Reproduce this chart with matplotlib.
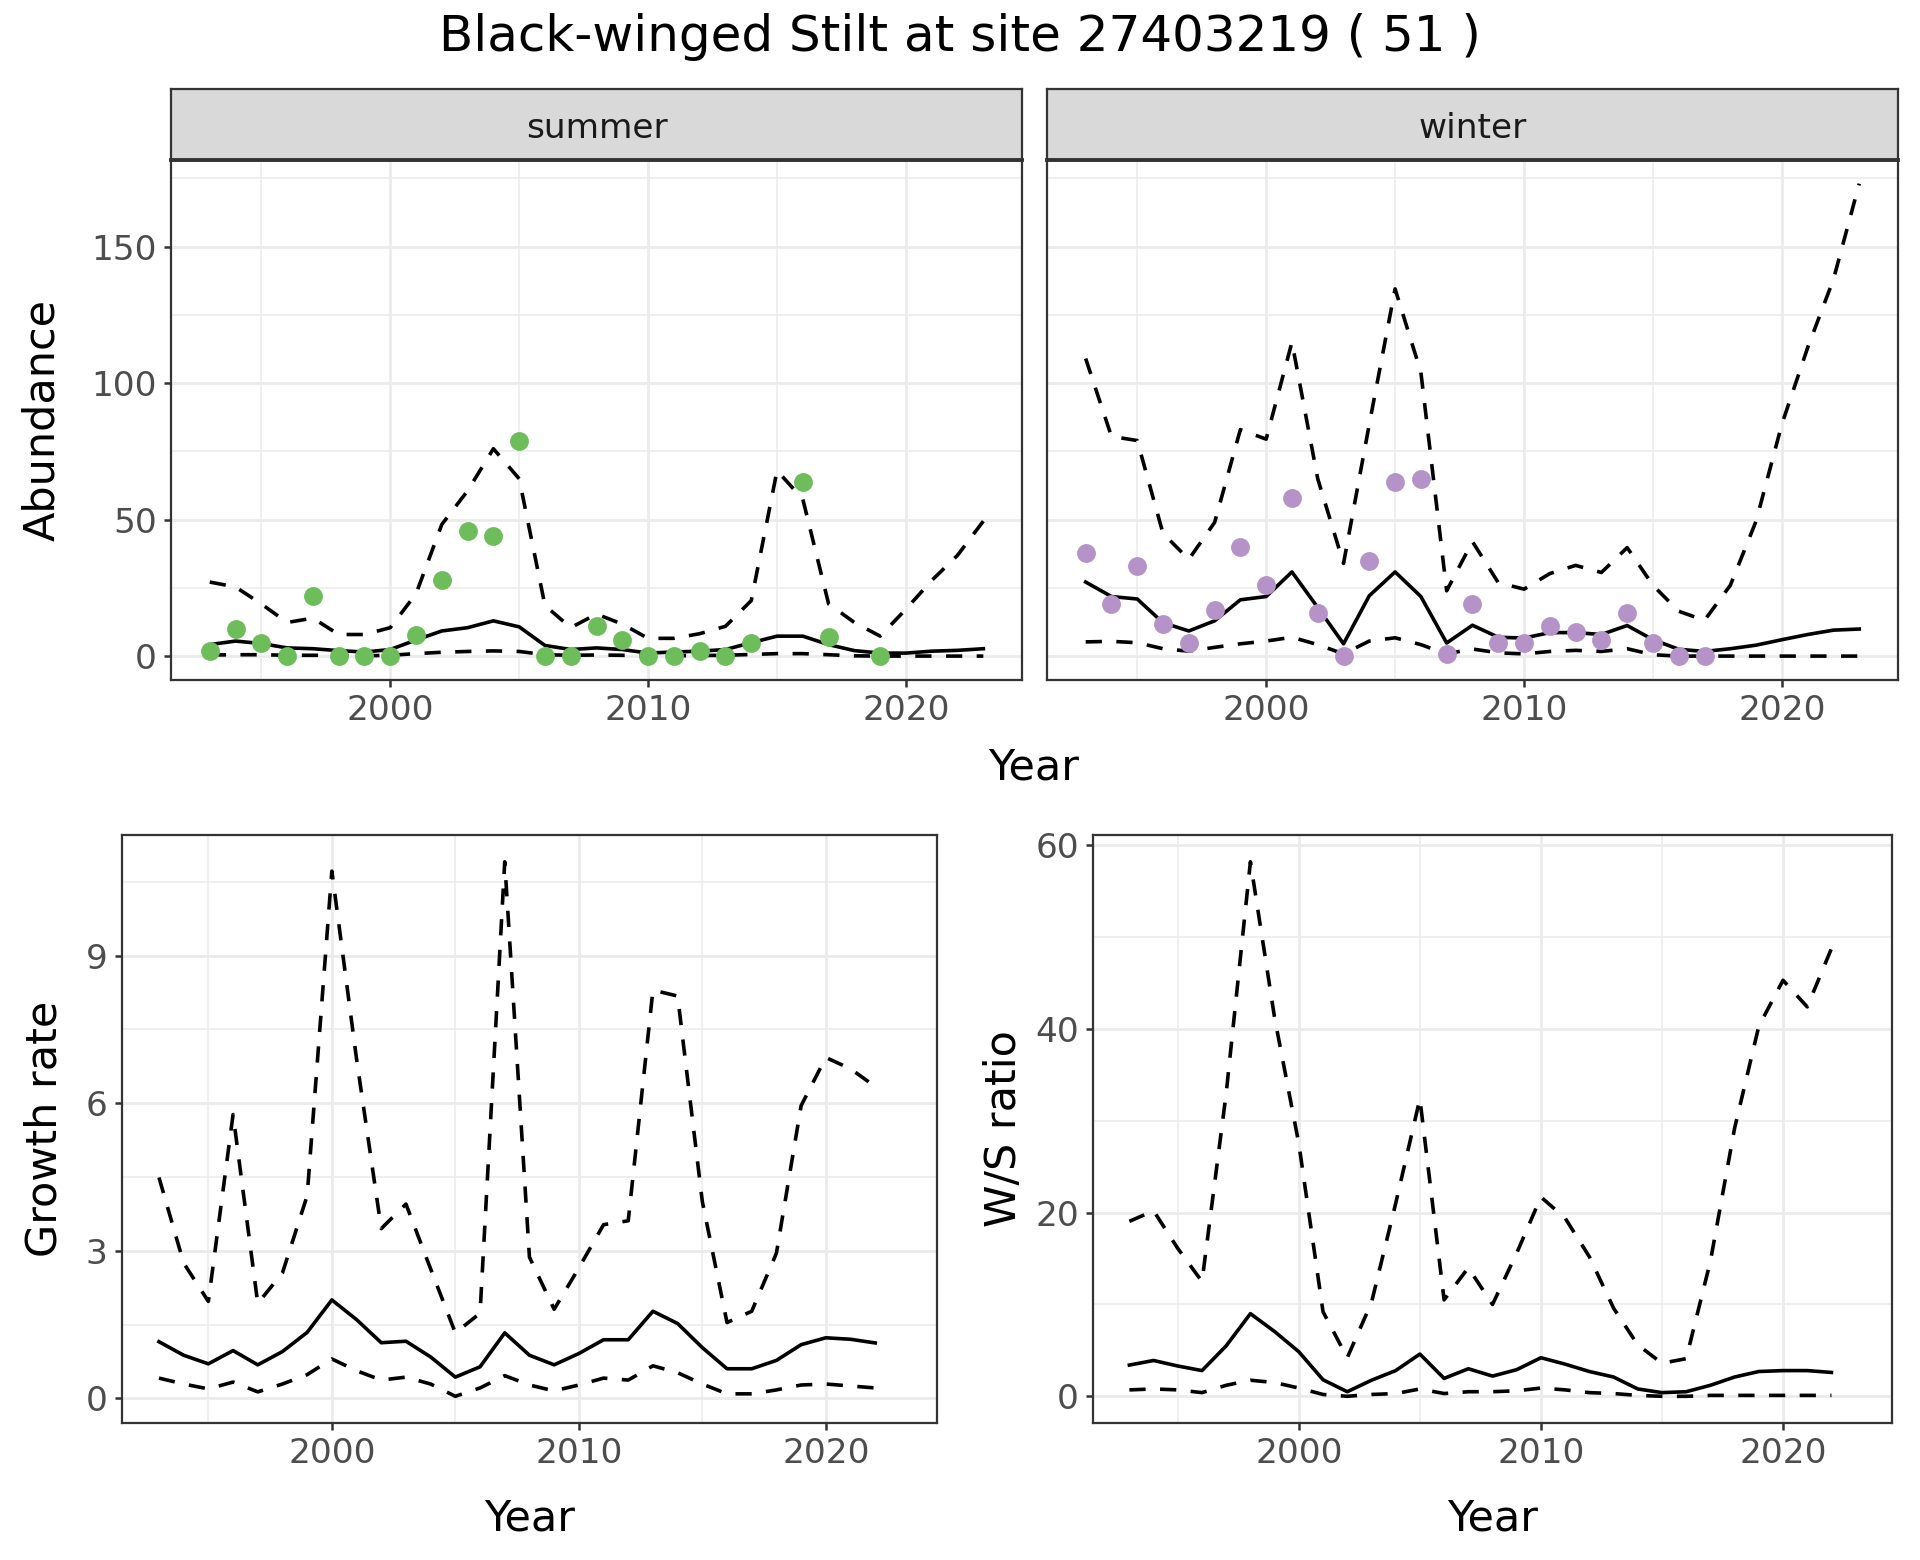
import numpy as np
import matplotlib.pyplot as plt
from matplotlib.ticker import MultipleLocator

plt.rcParams['font.family'] = ['DejaVu Sans']

# Years
years_ab = np.array([1993, 1994, 1995, 1996, 1997, 1998, 1999, 2000, 2001, 2002,
                     2003, 2004, 2005, 2006, 2007, 2008, 2009, 2010, 2011, 2012,
                     2013, 2014, 2015, 2016, 2017, 2018, 2019, 2020, 2021, 2022, 2023])
years_gr = years_ab[:-1]

nan = np.nan

# Summer abundance
summer_obs = [2, 10, 5, 0, 22, 0, 0, 0, 8, 28, 46, 44, 79, 0, 0, 11, 6, 0, 0, 2,
              0, 5, nan, 64, 7, nan, 0, nan, nan, nan, nan]
summer_mean = [4.3, 5.6, 4.7, 3.1, 2.8, 2.1, 1.6, 2.5, 6.0, 9.3, 10.5, 13.0, 10.8, 4.0,
               2.5, 3.1, 2.5, 1.2, 1.6, 1.9, 2.5, 5.0, 7.4, 7.4, 4.3, 2.1, 1.2, 1.2,
               1.9, 2.2, 2.8]
summer_upper = [27.2, 25.4, 19.2, 12.4, 14.0, 8.0, 8.0, 10.5, 22.9, 48.3, 60.6, 76.0,
                65.0, 18.6, 10.5, 15.5, 11.8, 6.6, 6.6, 8.3, 11.0, 20.4, 68.0, 57.5,
                19.2, 12.4, 7.4, 17.3, 27.8, 37.0, 49.5]
summer_lower = [0.5, 0.6, 0.6, 0.4, 0.4, 0.3, 0.2, 0.4, 1.0, 1.5, 1.8, 2.0, 1.8, 0.6,
                0.4, 0.5, 0.4, 0.2, 0.2, 0.3, 0.4, 0.7, 1.0, 1.0, 0.6, 0.2, 0.1, 0.1,
                0.1, 0.1, 0.1]

# Winter abundance
winter_obs = [38, 19, 33, 12, 5, 17, 40, 26, 58, 16, 0, 35, 64, 65, 1, 19, 5, 5, 11,
              9, 6, 16, 5, 0, 0, nan, nan, nan, nan, nan, nan]
winter_mean = [27.2, 21.9, 21.0, 12.3, 9.3, 13.0, 20.7, 21.9, 30.9, 17.9, 4.6, 22.2,
               30.9, 21.9, 4.9, 11.4, 7.0, 6.7, 8.7, 8.7, 8.0, 11.3, 6.1, 2.6, 1.8,
               2.8, 4.1, 6.1, 8.0, 9.6, 10.0]
winter_upper = [109, 80.5, 79, 45, 35.5, 49, 83, 79.5, 115, 65, 34, 85, 134.5, 104, 24,
                42, 27, 24.6, 30.3, 33.3, 30.7, 39.8, 26, 16.5, 13.2, 26, 49.5, 85,
                113, 138, 173]
winter_lower = [5.3, 5.5, 5.0, 2.8, 1.9, 3.3, 4.6, 5.6, 7.0, 4.3, 0.9, 5.6, 6.8, 4.3,
                0.9, 2.7, 1.3, 0.9, 1.8, 2.2, 1.8, 2.8, 0.6, 0.1, 0.1, 0.1, 0.1, 0.1,
                0.1, 0.1, 0.1]

# Growth rate
growth_mean = [1.15, 0.875, 0.70, 0.97, 0.68, 0.95, 1.34, 2.0, 1.6, 1.13, 1.16, 0.84,
               0.43, 0.64, 1.33, 0.875, 0.68, 0.91, 1.19, 1.19, 1.77, 1.52, 1.03,
               0.60, 0.60, 0.77, 1.09, 1.23, 1.2, 1.125]
growth_upper = [4.49, 2.75, 1.97, 5.77, 1.93, 2.55, 4.12, 10.72, 6.9, 3.45, 3.95, 2.63,
                1.33, 1.73, 10.91, 2.87, 1.81, 2.65, 3.53, 3.61, 8.3, 8.18, 4.0, 1.54,
                1.77, 2.95, 5.95, 6.93, 6.7, 6.34]
growth_lower = [0.41, 0.29, 0.19, 0.33, 0.13, 0.29, 0.48, 0.80, 0.56, 0.37, 0.43, 0.29,
                0.04, 0.21, 0.46, 0.27, 0.15, 0.27, 0.41, 0.37, 0.66, 0.52, 0.29, 0.09,
                0.09, 0.17, 0.27, 0.29, 0.25, 0.21]

# Winter / summer ratio
ratio_mean = [3.4, 3.9, 3.3, 2.8, 5.5, 9.0, 7.05, 4.85, 1.8, 0.5, 1.75, 2.8, 4.6, 1.95,
              3.0, 2.2, 2.9, 4.2, 3.5, 2.7, 2.1, 0.8, 0.4, 0.5, 1.2, 2.1, 2.7, 2.8,
              2.8, 2.6]
ratio_upper = [19.05, 20.2, 16.1, 12.5, 33, 58.2, 41.2, 27.5, 9.2, 4.2, 10.2, 21, 32.4,
               10.5, 14, 10, 15.6, 21.7, 19.4, 15.2, 9.6, 5.6, 3.6, 4.1, 14.7, 29.2,
               40.3, 45.3, 42.4, 48.75]
ratio_lower = [0.7, 0.8, 0.7, 0.4, 1.2, 1.75, 1.5, 0.9, 0.2, 0.0, 0.2, 0.3, 0.8, 0.3,
               0.5, 0.5, 0.6, 0.9, 0.7, 0.4, 0.3, 0.1, 0.0, 0.0, 0.1, 0.1, 0.1, 0.1,
               0.1, 0.1]

title = "Black-winged Stilt at site 27403219 ( 51 )"

GRID = "#EBEBEB"
BORDER = "#333333"
TICKTXT = "#4D4D4D"
DASH = (0, (4.5, 4))
LW = 1.3

# all panels share the full year span (ggplot expands 5 %)
span = years_ab.max() - years_ab.min()
XLIM = (years_ab.min() - 0.05 * span, years_ab.max() + 0.05 * span)


def style_axes(ax, ymajor, yminor):
    ax.set_facecolor("white")
    ax.xaxis.set_major_locator(MultipleLocator(10))
    ax.xaxis.set_minor_locator(MultipleLocator(5))
    ax.yaxis.set_major_locator(MultipleLocator(ymajor))
    ax.yaxis.set_minor_locator(MultipleLocator(yminor))
    ax.grid(True, which="major", color=GRID, lw=1.0)
    ax.grid(True, which="minor", color=GRID, lw=0.55)
    ax.set_axisbelow(True)
    for s in ax.spines.values():
        s.set_color(BORDER)
        s.set_linewidth(0.8)
    ax.tick_params(which="major", length=2.6, width=0.9, color=BORDER,
                   labelsize=12.4, labelcolor=TICKTXT, pad=2.5)
    ax.tick_params(which="minor", length=0)
    ax.margins(x=0.05, y=0.05)
    ax.set_xlim(*XLIM)


def draw_band(ax, x, mean, lower, upper):
    ax.plot(x, upper, color="black", lw=LW, ls=DASH)
    ax.plot(x, lower, color="black", lw=LW, ls=DASH)
    ax.plot(x, mean, color="black", lw=LW)


fig = plt.figure(figsize=(9.6, 7.8), dpi=200)

ax_s = fig.add_axes([0.0891, 0.5641, 0.4432, 0.3333])
ax_w = fig.add_axes([0.5453, 0.5641, 0.4432, 0.3333], sharey=ax_s, sharex=ax_s)
ax_g = fig.add_axes([0.0635, 0.0878, 0.4245, 0.3769])
ax_r = fig.add_axes([0.5693, 0.0878, 0.4161, 0.3769])

# Abundance panels
draw_band(ax_s, years_ab, summer_mean, summer_lower, summer_upper)
ax_s.scatter(years_ab, summer_obs, s=46, color="#6DBD5B", lw=0, zorder=3)
draw_band(ax_w, years_ab, winter_mean, winter_lower, winter_upper)
ax_w.scatter(years_ab, winter_obs, s=46, color="#B592C8", lw=0, zorder=3)

style_axes(ax_s, 50, 25)
style_axes(ax_w, 50, 25)
ax_w.tick_params(axis="y", which="both", left=False, labelleft=False)
ax_s.set_ylabel("Abundance", fontsize=15.5, labelpad=10)

# Facet strips
for ax, lab in [(ax_s, "summer"), (ax_w, "winter")]:
    pos = ax.get_position()
    strip = fig.add_axes([pos.x0, pos.y1, pos.width, 0.0455])
    strip.set_facecolor("#D9D9D9")
    strip.set_xticks([])
    strip.set_yticks([])
    for s in strip.spines.values():
        s.set_color(BORDER)
        s.set_linewidth(0.8)
    strip.spines["bottom"].set_linewidth(1.4)
    strip.text(0.5, 0.44, lab, ha="center", va="center", fontsize=12.4,
               color="#1A1A1A", transform=strip.transAxes)

fig.text(0.5383, 1 - 767 / 1560, "Year", ha="center", va="center", fontsize=15.5)

# Growth rate panel
draw_band(ax_g, years_gr, growth_mean, growth_lower, growth_upper)
style_axes(ax_g, 3, 1.5)
ax_g.set_xlabel("Year", fontsize=15.5, labelpad=10)
ax_g.set_ylabel("Growth rate", fontsize=15.5, labelpad=7.5)

# W/S ratio panel
draw_band(ax_r, years_gr, ratio_mean, ratio_lower, ratio_upper)
style_axes(ax_r, 20, 10)
ax_r.set_xlabel("Year", fontsize=15.5, labelpad=10)
ax_r.set_ylabel("W/S ratio", fontsize=15.5, labelpad=3.5)

fig.text(0.5, 1 - 37 / 1560, title, ha="center", va="center", fontsize=18)

fig.savefig("out.png", dpi=200, facecolor="white")
